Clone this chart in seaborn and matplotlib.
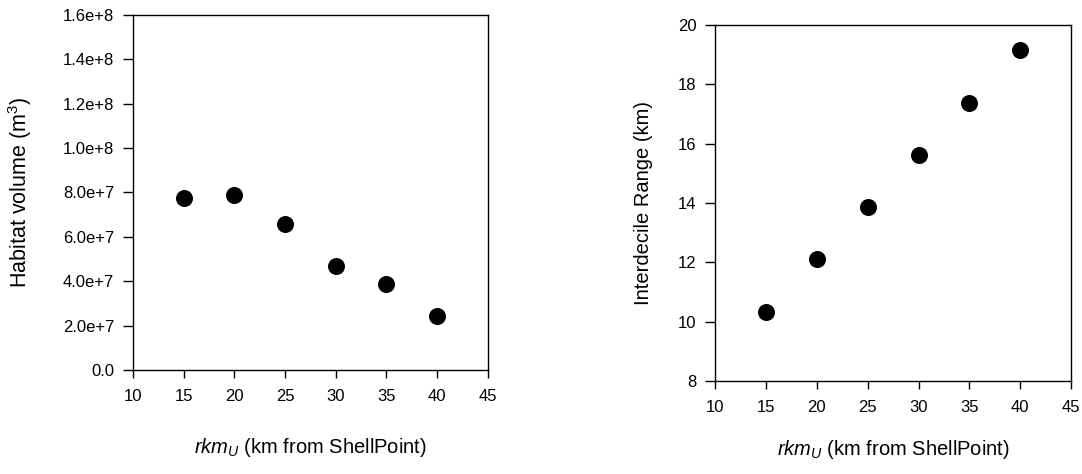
import matplotlib
matplotlib.use("Agg")
import matplotlib.pyplot as plt
import pandas as pd
import seaborn as sns

rkm = [15, 20, 25, 30, 35, 40]
habitat_volume = [7.74e7, 7.89e7, 6.58e7, 4.70e7, 3.88e7, 2.43e7]
interdecile_range = [10.33, 12.10, 13.87, 15.63, 17.39, 19.15]

x_ticks = [10, 15, 20, 25, 30, 35, 40, 45]
vol_ticks = [0, 2e7, 4e7, 6e7, 8e7, 1e8, 1.2e8, 1.4e8, 1.6e8]
vol_labels = ["0.0", "2.0e+7", "4.0e+7", "6.0e+7", "8.0e+7",
              "1.0e+8", "1.2e+8", "1.4e+8", "1.6e+8"]
idr_ticks = [8, 10, 12, 14, 16, 18, 20]

sns.set_theme(style="ticks")
plt.rcParams["font.family"] = ["Liberation Sans", "DejaVu Sans"]
plt.rcParams["mathtext.fontset"] = "custom"
plt.rcParams["mathtext.rm"] = "Liberation Sans"
plt.rcParams["mathtext.it"] = "Liberation Sans:italic"

df = pd.DataFrame({"rkm": rkm, "volume": habitat_volume, "idr": interdecile_range})

fig = plt.figure(figsize=(10.82, 4.74), dpi=100)
ax1 = fig.add_axes([0.1229, 0.2194, 0.328, 0.749])
ax2 = fig.add_axes([0.661, 0.196, 0.329, 0.751])

xlabel = r"$rkm_U$ (km from ShellPoint)"

for ax, col, yticks, ylim in ((ax1, "volume", vol_ticks, (0, 1.6e8)),
                              (ax2, "idr", idr_ticks, (8, 20))):
    sns.scatterplot(data=df, x="rkm", y=col, ax=ax, color="black",
                    s=150, edgecolor="black", linewidth=0, legend=False)
    ax.set_xlim(10, 45)
    ax.set_ylim(*ylim)
    ax.set_xticks(x_ticks)
    ax.set_yticks(yticks)
    for side in ("top", "right", "left", "bottom"):
        ax.spines[side].set_visible(True)
        ax.spines[side].set_color("black")
        ax.spines[side].set_linewidth(1.0)
    ax.tick_params(axis="both", direction="out", width=1, color="black",
                   labelsize=12, labelcolor="black")
    ax.tick_params(axis="x", length=5.5, pad=8)
    ax.tick_params(axis="y", length=7.5, pad=6)
    ax.set_xlabel(xlabel, fontsize=14.5, color="black")

ax1.set_yticklabels(vol_labels)
ax1.set_ylabel("Habitat volume (m$^3$)", fontsize=15.5, color="black")
ax1.yaxis.set_label_coords(-0.28, 0.5)
ax1.xaxis.set_label_coords(0.5, -0.185)

ax2.set_ylabel("Interdecile Range (km)", fontsize=14.5, color="black")
ax2.yaxis.set_label_coords(-0.175, 0.5)
ax2.xaxis.set_label_coords(0.5, -0.16)

fig.savefig("out.png", dpi=100, facecolor="white")
